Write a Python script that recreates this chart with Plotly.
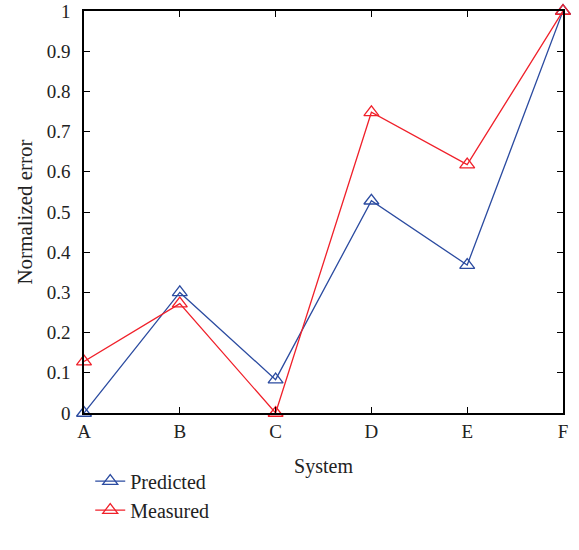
import plotly.graph_objects as go

systems = ["A", "B", "C", "D", "E", "F"]
predicted = [0.0, 0.30, 0.083, 0.528, 0.368, 1.0]
measured = [0.128, 0.272, 0.0, 0.748, 0.618, 1.0]
y_ticks = [0, 0.1, 0.2, 0.3, 0.4, 0.5, 0.6, 0.7, 0.8, 0.9, 1]
y_tick_labels = ["0", "0.1", "0.2", "0.3", "0.4", "0.5", "0.6", "0.7", "0.8", "0.9", "1"]

font = "Liberation Serif, DejaVu Serif, serif"
blue = "#2b4ba0"
red = "#f0202a"

fig = go.Figure()
fig.add_trace(go.Scatter(x=systems, y=predicted, name="Predicted", mode="lines+markers",
                         line=dict(color=blue, width=1.3),
                         marker=dict(symbol="triangle-up-open", size=13, color=blue, line=dict(width=1.3)),
                         cliponaxis=False))
fig.add_trace(go.Scatter(x=systems, y=measured, name="Measured", mode="lines+markers",
                         line=dict(color=red, width=1.3),
                         marker=dict(symbol="triangle-up-open", size=13, color=red, line=dict(width=1.3)),
                         cliponaxis=False))

axis_common = dict(showline=True, linecolor="black", linewidth=1.5, mirror="ticks",
                   ticks="inside", ticklen=6, tickwidth=1.3, tickcolor="black",
                   showgrid=False, zeroline=False, automargin=False,
                   ticklabeloverflow="allow",
                   tickfont=dict(family=font, size=19, color="#222"))
fig.update_xaxes(range=[0, 5], title=dict(text="System", font=dict(family=font, size=20, color="#222"), standoff=18),
                 **axis_common)
fig.update_yaxes(range=[0, 1], tickvals=y_ticks, ticktext=y_tick_labels, ticklabelstandoff=8,
                 title=dict(text="Normalized error", font=dict(family=font, size=21, color="#222"), standoff=8),
                 **axis_common)

fig.update_layout(
    width=579, height=550,
    margin=dict(l=84, r=16, t=11, b=137),
    plot_bgcolor="white", paper_bgcolor="white",
    showlegend=True,
    legend=dict(x=0.013, y=-0.121, xanchor="left", yanchor="top",
                font=dict(family=font, size=20, color="#222"),
                bgcolor="rgba(0,0,0,0)", tracegroupgap=0),
)

fig.write_html("out.html", config={"displayModeBar": False},
               post_script="document.body.style.margin='0';")
